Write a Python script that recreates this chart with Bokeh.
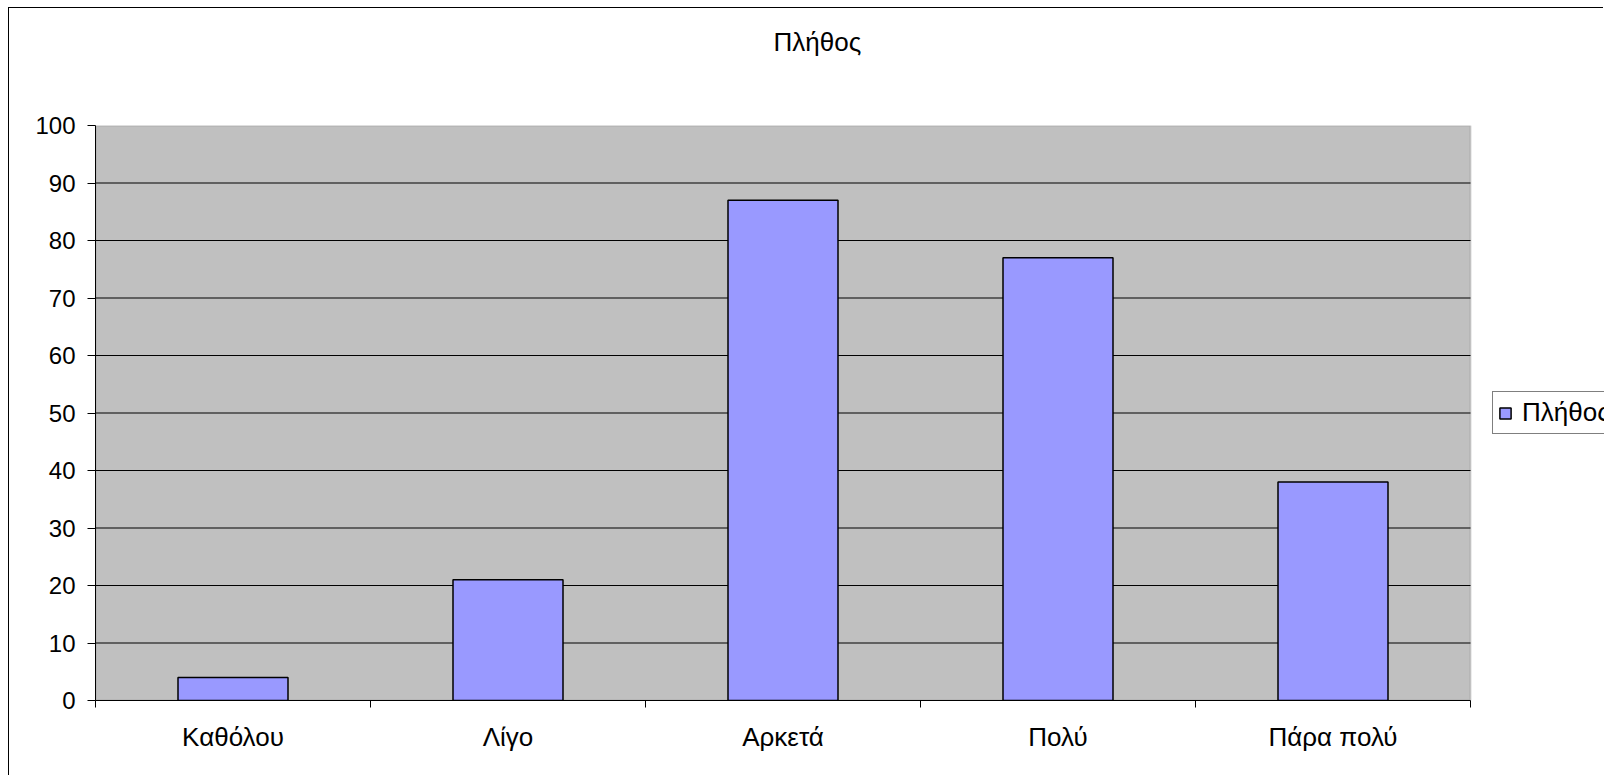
from bokeh.plotting import figure
from bokeh.models import (Range1d, LinearAxis, FixedTicker, BoxAnnotation,
                          Legend, LegendItem, Title, ColumnDataSource)
from bokeh.embed import file_html
from bokeh.resources import INLINE

categories = ["Καθόλου", "Λίγο", "Αρκετά", "Πολύ", "Πάρα πολύ"]
values = [4, 21, 87, 77, 38]
series_name = "Πλήθος"
y_ticks = [0, 10, 20, 30, 40, 50, 60, 70, 80, 90, 100]

FONT = "Liberation Sans"
FS_Y = "24px"
FS = "26px"

n = len(categories)
centers = [i + 0.5 for i in range(n)]
bounds = list(range(n + 1))
y_min, y_max = y_ticks[0], y_ticks[-1]
grid_ticks = y_ticks[1:-1]
source = ColumnDataSource(dict(x=centers, val=values, cat=categories))

# layout: plot area occupies 1375 of the 1509 px frame; the rest holds the legend
FRAME_W = 1509
AREA_W = 1375
x_end = n * FRAME_W / AREA_W

p = figure(
    x_range=Range1d(0, x_end),
    y_range=Range1d(y_min, y_max),
    width=1595, height=768,
    output_backend="svg", toolbar_location=None,
    x_axis_location=None,
    min_border_left=86, min_border_right=0, min_border_top=117, min_border_bottom=76,
)
p.styles = {"margin-left": "8px", "margin-top": "7px",
            "border-left": "1px solid black", "border-top": "1px solid black"}
p.background_fill_color = "white"
p.border_fill_color = "white"
p.outline_line_color = None
p.xgrid.visible = False
p.ygrid.visible = False

# grey plot area
area = BoxAnnotation(left=0, right=n, bottom=y_min, top=y_max,
                     fill_color="#C0C0C0", fill_alpha=1,
                     line_color="#808080", line_width=2, level="underlay")
p.add_layout(area)

# horizontal grid lines across the plot area
p.segment(x0=[0] * len(grid_ticks), x1=[n] * len(grid_ticks), y0=grid_ticks, y1=grid_ticks,
          line_color="black", line_width=1)

# bars
r = p.vbar(x="x", top="val", width=0.4, source=source,
           fill_color="#9999FF", line_color="black", line_width=1.5)

# title (with a spacer panel between it and the plot area)
p.add_layout(Title(text=" ", text_font_size="2px", standoff=60), "above")
p.add_layout(Title(text=series_name, align="left", offset=678, standoff=10,
                   text_font=FONT, text_font_size=FS, text_font_style="normal",
                   text_color="black"), "above")

# y axis
ya = p.yaxis[0]
ya.ticker = FixedTicker(ticks=y_ticks)
ya.major_tick_out = 8
ya.major_tick_in = 0
ya.minor_tick_line_color = None
ya.axis_line_color = "black"
ya.major_tick_line_color = "black"
ya.major_label_text_font = FONT
ya.major_label_text_font_size = FS_Y
ya.major_label_text_color = "black"
ya.major_label_standoff = 12

# x axis: category labels at centres, tick marks at category boundaries
xa = LinearAxis(ticker=FixedTicker(ticks=centers, minor_ticks=bounds),
                bounds=(0, n),
                major_label_overrides={c: lab for c, lab in zip(centers, categories)},
                axis_line_color="black", major_tick_line_color=None,
                minor_tick_line_color="black", minor_tick_out=7, minor_tick_in=0,
                major_label_text_font=FONT, major_label_text_font_size=FS,
                major_label_text_color="black", major_label_standoff=14)
p.add_layout(xa, "below")

# legend
legend = Legend(items=[LegendItem(label=series_name, renderers=[r])],
                location=(1397, 266), margin=0, padding=5, spacing=0,
                border_line_color="black", border_line_width=1,
                background_fill_color="white", background_fill_alpha=1,
                glyph_width=14, glyph_height=14, label_standoff=10,
                label_text_font=FONT, label_text_font_size=FS, label_text_color="black")
p.add_layout(legend, "center")

open("out.html", "w").write(file_html(p, INLINE))
